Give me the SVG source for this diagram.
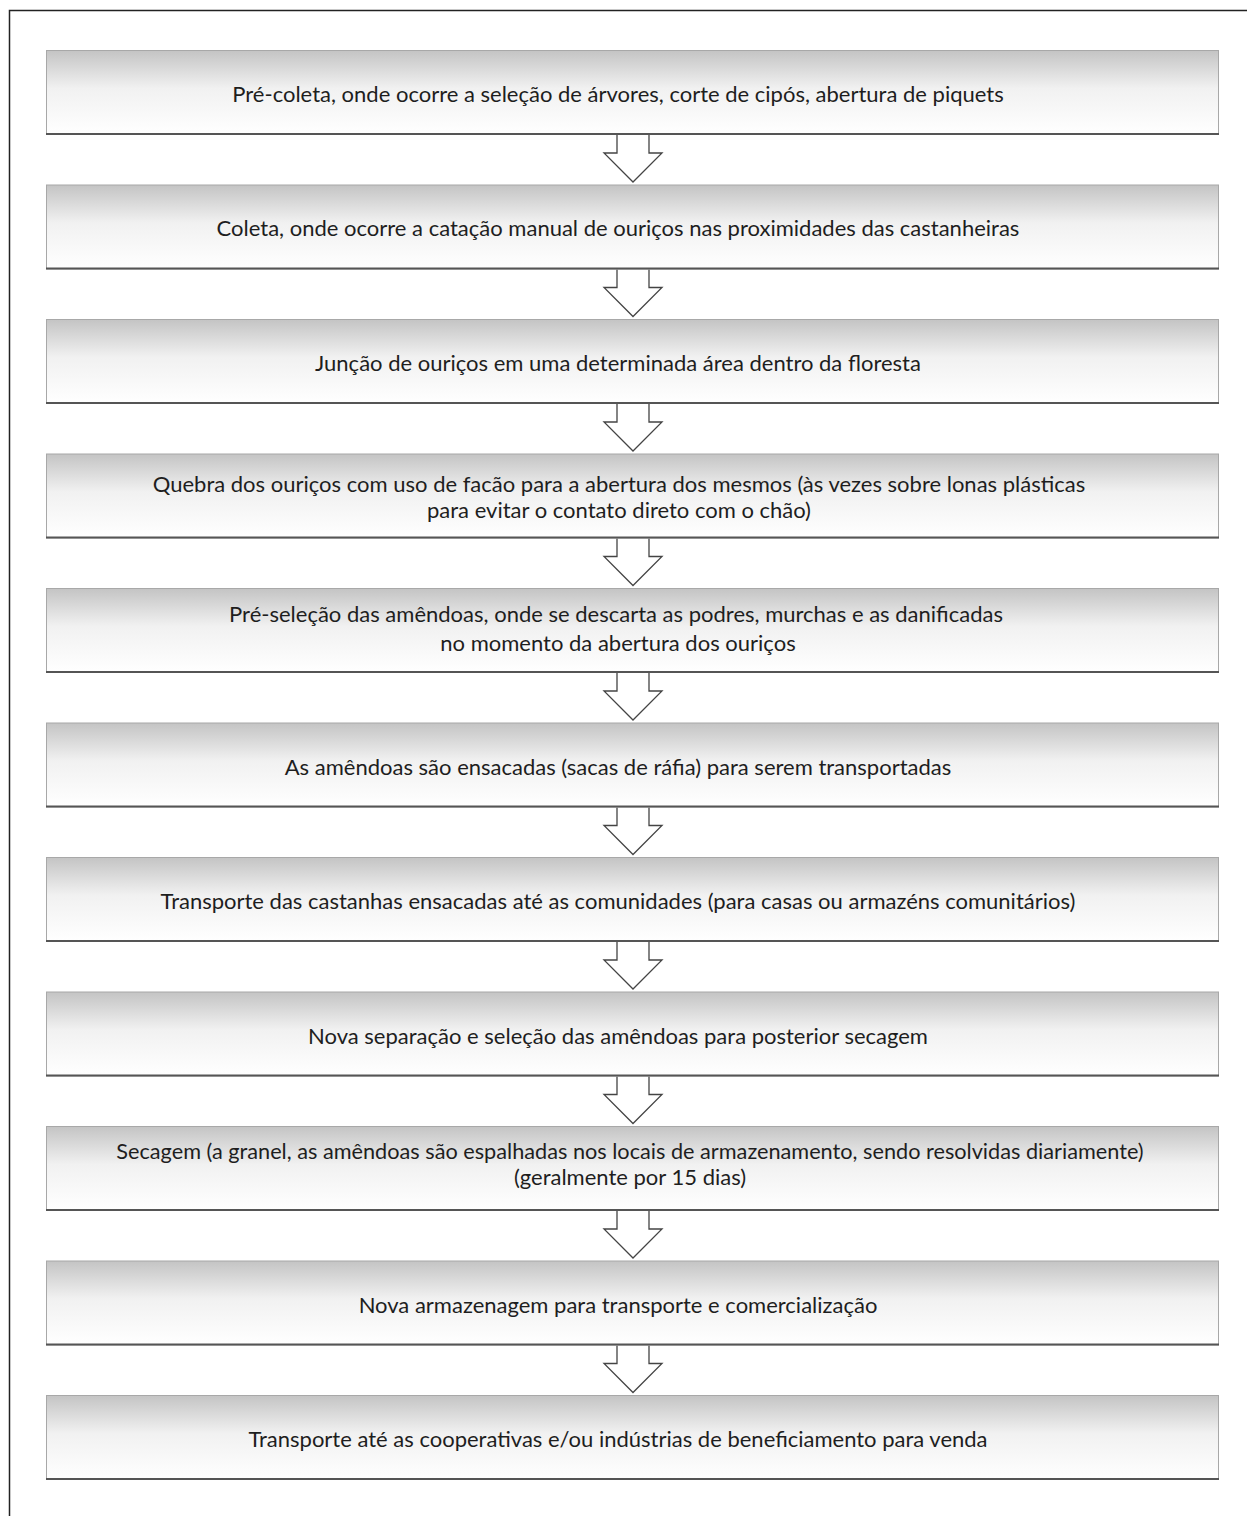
<svg xmlns="http://www.w3.org/2000/svg" width="1247" height="1516" viewBox="0 0 1247 1516">
<defs>
<linearGradient id="g" x1="0" y1="0" x2="0" y2="1">
<stop offset="0" stop-color="#c4c4c4"/>
<stop offset="0.45" stop-color="#f1f1f1"/>
<stop offset="1" stop-color="#ffffff"/>
</linearGradient>
<style>
.box{fill:url(#g);stroke:#a8a8a8;stroke-width:1}
.bot{stroke:#555;stroke-width:2}
.t{font-family:Lato,"Open Sans",sans-serif;font-size:22px;fill:#1e1e1e;text-anchor:middle}
.arr{fill:#fff;stroke:#444;stroke-width:1.3;stroke-linejoin:miter}
</style>
</defs>
<rect width="1247" height="1516" fill="#fff"/>
<path d="M9.5 1516 V10.5 H1247" fill="none" stroke="#222" stroke-width="1.5"/>
<g id="connectors">
<path class="arr" d="M617 135 V153 H604 L633 182 L662 153 H649 V135"/>
<path class="arr" d="M617 269.5 V287.5 H604 L633 316.5 L662 287.5 H649 V269.5"/>
<path class="arr" d="M617 404 V422 H604 L633 451 L662 422 H649 V404"/>
<path class="arr" d="M617 538.5 V556.5 H604 L633 585.5 L662 556.5 H649 V538.5"/>
<path class="arr" d="M617 673 V691 H604 L633 720 L662 691 H649 V673"/>
<path class="arr" d="M617 807.5 V825.5 H604 L633 854.5 L662 825.5 H649 V807.5"/>
<path class="arr" d="M617 942 V960 H604 L633 989 L662 960 H649 V942"/>
<path class="arr" d="M617 1076.5 V1094.5 H604 L633 1123.5 L662 1094.5 H649 V1076.5"/>
<path class="arr" d="M617 1211 V1229 H604 L633 1258 L662 1229 H649 V1211"/>
<path class="arr" d="M617 1345.5 V1363.5 H604 L633 1392.5 L662 1363.5 H649 V1345.5"/>
</g>
<g id="n1"><rect class="box" x="46.5" y="50.5" width="1172" height="84"/><line class="bot" x1="46" y1="134" x2="1219" y2="134"/><text class="t" x="618" y="102">Pré-coleta, onde ocorre a seleção de árvores, corte de cipós, abertura de piquets</text></g>
<g id="n2"><rect class="box" x="46.5" y="185" width="1172" height="84"/><line class="bot" x1="46" y1="268.5" x2="1219" y2="268.5"/><text class="t" x="618" y="236">Coleta, onde ocorre a catação manual de ouriços nas proximidades das castanheiras</text></g>
<g id="n3"><rect class="box" x="46.5" y="319.5" width="1172" height="84"/><line class="bot" x1="46" y1="403" x2="1219" y2="403"/><text class="t" x="618" y="371">Junção de ouriços em uma determinada área dentro da floresta</text></g>
<g id="n4"><rect class="box" x="46.5" y="454" width="1172" height="84"/><line class="bot" x1="46" y1="537.5" x2="1219" y2="537.5"/><text class="t" x="619" y="492">Quebra dos ouriços com uso de facão para a abertura dos mesmos (às vezes sobre lonas plásticas</text><text class="t" x="619" y="518">para evitar o contato direto com o chão)</text></g>
<g id="n5"><rect class="box" x="46.5" y="588.5" width="1172" height="84"/><line class="bot" x1="46" y1="672" x2="1219" y2="672"/><text class="t" x="616" y="622">Pré-seleção das amêndoas, onde se descarta as podres, murchas e as danificadas</text><text class="t" x="618" y="651">no momento da abertura dos ouriços</text></g>
<g id="n6"><rect class="box" x="46.5" y="723" width="1172" height="84"/><line class="bot" x1="46" y1="806.5" x2="1219" y2="806.5"/><text class="t" x="618" y="775">As amêndoas são ensacadas (sacas de ráfia) para serem transportadas</text></g>
<g id="n7"><rect class="box" x="46.5" y="857.5" width="1172" height="84"/><line class="bot" x1="46" y1="941" x2="1219" y2="941"/><text class="t" x="618" y="909">Transporte das castanhas ensacadas até as comunidades (para casas ou armazéns comunitários)</text></g>
<g id="n8"><rect class="box" x="46.5" y="992" width="1172" height="84"/><line class="bot" x1="46" y1="1075.5" x2="1219" y2="1075.5"/><text class="t" x="618" y="1044">Nova separação e seleção das amêndoas para posterior secagem</text></g>
<g id="n9"><rect class="box" x="46.5" y="1126.5" width="1172" height="84"/><line class="bot" x1="46" y1="1210" x2="1219" y2="1210"/><text class="t" x="630" y="1159" style="font-size:21.7px">Secagem (a granel, as amêndoas são espalhadas nos locais de armazenamento, sendo resolvidas diariamente)</text><text class="t" x="630" y="1185">(geralmente por 15 dias)</text></g>
<g id="n10"><rect class="box" x="46.5" y="1261" width="1172" height="84"/><line class="bot" x1="46" y1="1344.5" x2="1219" y2="1344.5"/><text class="t" x="618" y="1313">Nova armazenagem para transporte e comercialização</text></g>
<g id="n11"><rect class="box" x="46.5" y="1395.5" width="1172" height="84"/><line class="bot" x1="46" y1="1479" x2="1219" y2="1479"/><text class="t" x="618" y="1447">Transporte até as cooperativas e/ou indústrias de beneficiamento para venda</text></g>
</svg>
